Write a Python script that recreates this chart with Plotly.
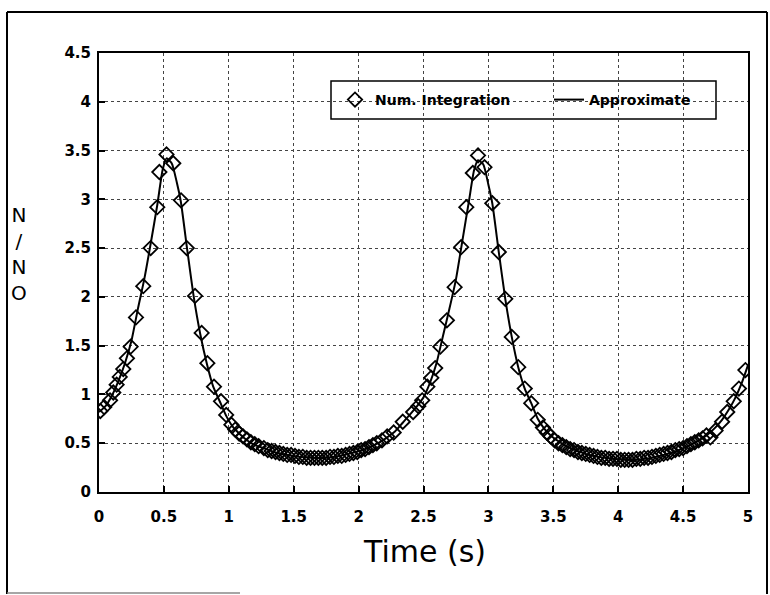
import plotly.graph_objects as go

# ---- data ----
num_t = [0.01, 0.04, 0.085, 0.11, 0.136, 0.16, 0.187, 0.215, 0.244, 0.285, 0.341, 0.398, 0.449, 0.465,
         0.52, 0.572, 0.632, 0.676, 0.74, 0.791, 0.835, 0.886, 0.94, 0.98, 1.02, 1.05, 1.08, 1.11, 1.14,
         1.17, 1.20, 1.23, 1.27, 1.30, 1.33, 1.36, 1.39, 1.42, 1.45, 1.48, 1.51, 1.54, 1.57, 1.60, 1.63,
         1.66, 1.69, 1.72, 1.75, 1.78, 1.81, 1.84, 1.87, 1.90, 1.93, 1.96, 1.99, 2.02, 2.05, 2.08, 2.11,
         2.14, 2.18, 2.22, 2.27, 2.34, 2.42, 2.46, 2.49, 2.53, 2.56, 2.59, 2.63, 2.68, 2.74, 2.79, 2.83,
         2.88, 2.92, 2.97, 3.03, 3.08, 3.13, 3.18, 3.23, 3.28, 3.33, 3.38, 3.42, 3.45, 3.48, 3.51, 3.54,
         3.57, 3.60, 3.63, 3.66, 3.69, 3.72, 3.75, 3.78, 3.81, 3.84, 3.87, 3.90, 3.93, 3.96, 3.99, 4.02,
         4.05, 4.08, 4.11, 4.14, 4.17, 4.20, 4.23, 4.26, 4.29, 4.32, 4.35, 4.38, 4.41, 4.44, 4.47, 4.50,
         4.53, 4.56, 4.59, 4.62, 4.65, 4.68, 4.71, 4.75, 4.80, 4.84, 4.89, 4.93, 4.98]
num_n = [0.83, 0.87, 0.94, 1.02, 1.10, 1.18, 1.26, 1.37, 1.49, 1.79, 2.11, 2.50, 2.92, 3.28,
         3.46, 3.37, 2.99, 2.50, 2.01, 1.63, 1.32, 1.08, 0.93, 0.79, 0.69, 0.64, 0.60, 0.57, 0.54,
         0.51, 0.49, 0.47, 0.45, 0.43, 0.42, 0.41, 0.40, 0.39, 0.38, 0.38, 0.37, 0.36, 0.36, 0.35, 0.35,
         0.35, 0.35, 0.35, 0.35, 0.36, 0.36, 0.37, 0.37, 0.38, 0.39, 0.40, 0.41, 0.43, 0.44, 0.46, 0.48,
         0.50, 0.53, 0.57, 0.61, 0.72, 0.82, 0.88, 0.94, 1.08, 1.17, 1.27, 1.49, 1.76, 2.10, 2.51, 2.92,
         3.27, 3.45, 3.33, 2.96, 2.46, 1.98, 1.59, 1.28, 1.06, 0.91, 0.74, 0.66, 0.61, 0.57, 0.53, 0.50,
         0.48, 0.46, 0.44, 0.43, 0.41, 0.40, 0.39, 0.38, 0.37, 0.36, 0.35, 0.35, 0.34, 0.34, 0.34, 0.33,
         0.33, 0.33, 0.33, 0.34, 0.34, 0.35, 0.35, 0.36, 0.37, 0.38, 0.39, 0.40, 0.41, 0.43, 0.44, 0.45,
         0.47, 0.49, 0.51, 0.53, 0.55, 0.58, 0.56, 0.63, 0.72, 0.82, 0.93, 1.06, 1.25]

approx_t = [0.00, 0.05, 0.10, 0.15, 0.20, 0.25, 0.30, 0.35, 0.40, 0.45, 0.49, 0.52, 0.56, 0.60, 0.63,
            0.68, 0.73, 0.78, 0.83, 0.88, 0.93, 0.98, 1.03, 1.08, 1.14, 1.20, 1.27, 1.35, 1.45, 1.55,
            1.65, 1.75, 1.85, 1.95, 2.05, 2.15, 2.22, 2.28, 2.34, 2.40, 2.45, 2.50, 2.55, 2.60, 2.65,
            2.70, 2.75, 2.80, 2.85, 2.89, 2.92, 2.96, 3.00, 3.03, 3.08, 3.13, 3.18, 3.23, 3.28, 3.33,
            3.38, 3.43, 3.48, 3.54, 3.60, 3.67, 3.75, 3.85, 3.95, 4.05, 4.15, 4.25, 4.35, 4.45, 4.55,
            4.62, 4.68, 4.74, 4.80, 4.85, 4.90, 4.95, 5.00]
approx_n = [0.82, 0.88, 0.99, 1.14, 1.32, 1.55, 1.88, 2.19, 2.56, 2.95, 3.30, 3.42, 3.37, 3.17, 2.98,
            2.48, 2.00, 1.62, 1.32, 1.08, 0.93, 0.78, 0.67, 0.60, 0.53, 0.48, 0.45, 0.41, 0.38, 0.36,
            0.35, 0.35, 0.37, 0.40, 0.44, 0.50, 0.56, 0.62, 0.71, 0.80, 0.88, 0.97, 1.12, 1.32, 1.60,
            1.88, 2.18, 2.58, 2.98, 3.30, 3.40, 3.36, 3.15, 2.96, 2.46, 1.98, 1.59, 1.28, 1.06, 0.91,
            0.75, 0.65, 0.58, 0.52, 0.47, 0.43, 0.39, 0.36, 0.34, 0.33, 0.33, 0.35, 0.38, 0.42, 0.48,
            0.53, 0.58, 0.65, 0.74, 0.84, 0.96, 1.11, 1.30]

x_ticks = [0, 0.5, 1, 1.5, 2, 2.5, 3, 3.5, 4, 4.5, 5]
x_tick_text = ["0", "0.5", "1", "1.5", "2", "2.5", "3", "3.5", "4", "4.5", "5"]
y_ticks = [0, 0.5, 1, 1.5, 2, 2.5, 3, 3.5, 4, 4.5]
y_tick_text = ["0", "0.5", "1", "1.5", "2", "2.5", "3", "3.5", "4", "4.5"]

# ---- figure ----
W, H = 770, 595
L, R, T, B = 99, 22, 53, 103
pw, ph = W - L - R, H - T - B

def px(x):
    return (x - L) / pw

def py(y):
    return (H - B - y) / ph

fig = go.Figure()
fig.add_trace(go.Scatter(
    x=num_t, y=num_n, mode="markers", name="Num. Integration", legend="legend",
    marker=dict(symbol="diamond-open", size=11, color="black", line=dict(width=1.8, color="black")),
))
fig.add_trace(go.Scatter(
    x=approx_t, y=approx_n, mode="lines", name="Approximate", legend="legend2",
    line=dict(color="black", width=2, shape="spline", smoothing=0.6),
))

tick_font = dict(family="DejaVu Sans", size=15, color="black", weight="bold")
axis_common = dict(
    showline=True, linecolor="black", linewidth=2, mirror=True,
    ticks="inside", ticklen=6, tickwidth=1.5, tickcolor="black",
    showgrid=True, gridcolor="#444444", gridwidth=1, griddash="dot",
    zeroline=False, tickfont=tick_font,
)
fig.update_xaxes(range=[0, 5], tickvals=x_ticks, ticktext=x_tick_text, ticklabelstandoff=10, **axis_common)
fig.update_yaxes(range=[0, 4.5], tickvals=y_ticks, ticktext=y_tick_text, ticklabelstandoff=3, **axis_common)

leg_font = dict(family="DejaVu Sans", size=14, color="black", weight="bold")
fig.update_layout(
    width=W, height=H,
    margin=dict(l=L, r=R, t=T, b=B, pad=0),
    paper_bgcolor="white", plot_bgcolor="white",
    showlegend=True,
    legend=dict(orientation="h", x=px(335), xanchor="left", y=py(100), yanchor="middle",
                bgcolor="rgba(0,0,0,0)", borderwidth=0, font=leg_font),
    legend2=dict(orientation="h", x=px(549), xanchor="left", y=py(100), yanchor="middle",
                 bgcolor="rgba(0,0,0,0)", borderwidth=0, font=leg_font),
)

# legend frame
fig.add_shape(type="rect", xref="paper", yref="paper", x0=px(331), x1=px(716), y0=py(81), y1=py(119),
              line=dict(color="black", width=1.5), fillcolor="white", layer="below")

# axis titles as annotations
fig.add_annotation(text="Time (s)", xref="paper", yref="paper", x=px(424), y=py(551),
                   showarrow=False, font=dict(family="DejaVu Sans", size=30, color="black"),
                   xanchor="center", yanchor="middle")
fig.add_annotation(text="N<br>/<br>N<br>O", xref="paper", yref="paper", x=px(19), y=py(254),
                   showarrow=False, font=dict(family="DejaVu Sans", size=20, color="black"),
                   xanchor="center", yanchor="middle", align="center")

# outer frame
frame = dict(xref="paper", yref="paper", type="line", line=dict(color="black", width=2))
fig.add_shape(x0=px(7), x1=px(7), y0=py(12), y1=py(594), **frame)
fig.add_shape(x0=px(7), x1=px(767), y0=py(12), y1=py(12), **frame)
fig.add_shape(x0=px(767), x1=px(767), y0=py(12), y1=py(594), **frame)
fig.add_shape(xref="paper", yref="paper", type="line", x0=px(7), x1=px(240), y0=py(593), y1=py(593),
              line=dict(color="#888888", width=1.5))

fig.write_html("out.html")
